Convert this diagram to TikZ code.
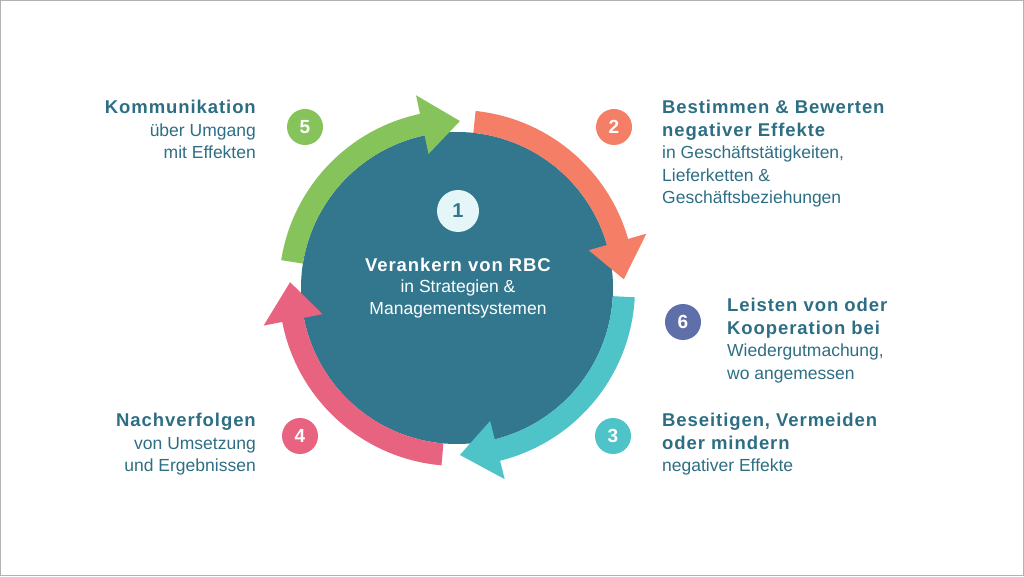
\documentclass[tikz,border=0pt]{standalone}
\usepackage{fontspec}
\setmainfont{Liberation Sans}
\newcommand{\hd}[1]{{\bfseries\fontsize{18.5}{22.5}\selectfont\addfontfeatures{LetterSpace=5}#1}}
\definecolor{cgreen}{HTML}{86C35A}
\definecolor{corange}{HTML}{F47E66}
\definecolor{cteal}{HTML}{4EC3C8}
\definecolor{cpink}{HTML}{E8637F}
\definecolor{ccore}{HTML}{32778E}
\definecolor{cpurple}{HTML}{5E6FAA}
\definecolor{ctext}{HTML}{2D6E84}
\begin{document}
\begin{tikzpicture}[x=1pt,y=1pt,
  num/.style={circle,minimum size=36pt,inner sep=0pt,text=white,font=\fontsize{19}{19}\selectfont\bfseries},
  rtxt/.style={anchor=north west,align=left,text=ctext,inner sep=0pt,font=\fontsize{17.5}{22.5}\selectfont},
  ltxt/.style={anchor=north east,align=right,text=ctext,inner sep=0pt,font=\fontsize{17.5}{22.5}\selectfont}]
\useasboundingbox (0,0) rectangle (1024,576);
\draw[gray!60] (0.5,0.5) rectangle (1023.5,575.5);
\coordinate (c) at (457,288);
\node[circle,fill=ccore,minimum size=312pt,inner sep=0pt] (core) at (c) {};
\newcommand{\arrowseg}[3]{%
 \fill[#3,shift={(c)}] (#1:178) arc[start angle=#1,end angle=#2+13,radius=178]
  -- (#2+13:197) -- (#2:167) -- (#2+13:137) -- (#2+13:156)
  arc[start angle=#2+13,end angle=#1,radius=156] -- cycle;}
\arrowseg{171}{89}{cgreen}
\arrowseg{84}{3}{corange}
\arrowseg{-3}{-89}{cteal}
\arrowseg{-95}{-182}{cpink}
\node[circle,fill=white!85!cteal,minimum size=42pt,inner sep=0pt,text=ccore,font=\fontsize{20}{20}\selectfont\bfseries] (n1) at (458,365) {1};
\node[align=center,text=white,font=\fontsize{17.5}{21.5}\selectfont] (t1) at (458,288) {\hd{Verankern von RBC}\\in Strategien \&\\Managementsystemen};
\node[num,fill=cgreen] (n5) at (305,449) {5};
\node[num,fill=corange] (n2) at (614,449) {2};
\node[num,fill=cpurple] (n6) at (683,254) {6};
\node[num,fill=cteal] (n3) at (613,140) {3};
\node[num,fill=cpink] (n4) at (300,140) {4};
\node[rtxt] (t2) at (662,476) {\hd{Bestimmen \& Bewerten}\\\hd{negativer Effekte}\\in Geschäftstätigkeiten,\\Lieferketten \&\\Geschäftsbeziehungen};
\node[rtxt] (t6) at (727,278) {\hd{Leisten von oder}\\\hd{Kooperation bei}\\Wiedergutmachung,\\wo angemessen};
\node[rtxt] (t3) at (662,163) {\hd{Beseitigen, Vermeiden}\\\hd{oder mindern}\\negativer Effekte};
\node[ltxt] (t5) at (256,476) {\hd{Kommunikation}\\über Umgang\\mit Effekten};
\node[ltxt] (t4) at (256,163) {\hd{Nachverfolgen}\\von Umsetzung\\und Ergebnissen};
\end{tikzpicture}
\end{document}
